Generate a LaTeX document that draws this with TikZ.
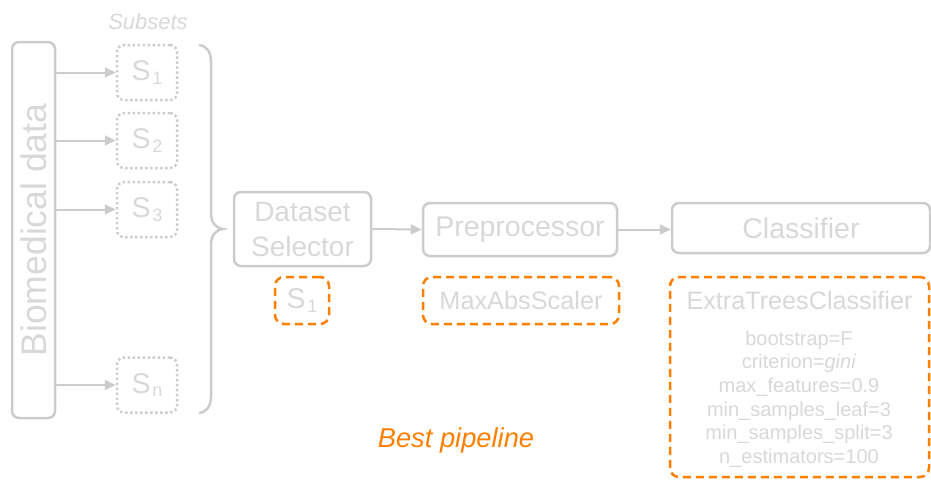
\documentclass[tikz,border=0pt]{standalone}
\usepackage{fontspec}
\setmainfont{Liberation Sans}
\usetikzlibrary{arrows.meta}
\definecolor{boxgray}{RGB}{204,204,204}
\definecolor{txtgray}{RGB}{216,216,216}
\definecolor{bestorange}{RGB}{255,128,0}
\newcommand\subsetlabel[1]{S\kern1.5pt\raisebox{-3.5pt}{\fontsize{18}{20}\selectfont #1}}
\begin{document}
\begin{tikzpicture}[x=1pt,y=-1pt,
  graybox/.style={draw=boxgray, line width=2.5pt, rounded corners=7pt, text=txtgray, inner sep=0pt},
  subsetbox/.style={draw=boxgray, line width=2.5pt, dash pattern=on 2.4pt off 2.6pt, rounded corners=7pt,
      minimum width=60pt, minimum height=55pt, text=txtgray, inner sep=0pt, font=\fontsize{28.5}{32}\selectfont},
  bestbox/.style={draw=bestorange, line width=2.5pt, dash pattern=on 8pt off 5pt, rounded corners=9pt,
      text=txtgray, inner sep=0pt},
  conn/.style={draw=boxgray, line width=2pt, -{Triangle[length=11pt,width=10pt]}},
  bracestyle/.style={draw=boxgray, line width=2.5pt}
]
\useasboundingbox (0,0) rectangle (931,483);

% Biomedical data
\node[graybox, rotate=90, minimum width=376pt, minimum height=43pt,
      font=\fontsize{35.5}{40}\selectfont] (bio) at (33.5,230) {Biomedical data};

% Subsets
\node[text=txtgray, font=\fontsize{22}{26}\selectfont\itshape] (subsets) at (148,22) {Subsets};
\node[subsetbox] (s1) at (147,72.5) {\subsetlabel{1}};
\node[subsetbox] (s2) at (147,140.5) {\subsetlabel{2}};
\node[subsetbox] (s3) at (147,209.5) {\subsetlabel{3}};
\node[subsetbox] (sn) at (147,385) {\subsetlabel{n}};

\draw[conn] (bio.south |- s1.west) -- (s1.west);
\draw[conn] (bio.south |- s2.west) -- (s2.west);
\draw[conn] (bio.south |- s3.west) -- (s3.west);
\draw[conn] (bio.south |- sn.west) -- (sn.west);

% Brace
\draw[bracestyle] (199,45) .. controls (207,46) and (211,52) .. (211,62) -- (211,213)
   .. controls (211,222) and (215,228) .. (223,229)
   .. controls (215,230) and (211,236) .. (211,245) -- (211,396)
   .. controls (211,406) and (207,412) .. (199,413);

% Pipeline boxes
\node[graybox, minimum width=137pt, minimum height=74pt, align=center,
      font=\fontsize{28}{35}\selectfont] (dsel) at (302.5,229) {Dataset\\Selector};
\node[graybox, minimum width=194pt, minimum height=53pt,
      font=\fontsize{28.5}{34}\selectfont] (prep) at (520,229.5) {Preprocessor};
\node[graybox, minimum width=258pt, minimum height=50pt,
      font=\fontsize{28.5}{34}\selectfont] (clf) at (801,228) {Classifier};

\draw[conn] (dsel.east) -- (prep.west);
\draw[conn] (prep.east) -- (prep.east -| clf.west);

% Best pipeline
\node[bestbox, minimum width=54pt, minimum height=47pt,
      font=\fontsize{28.5}{32}\selectfont] (bs1) at (302,300.5) {\subsetlabel{1}};
\node[bestbox, minimum width=196pt, minimum height=47pt,
      font=\fontsize{25.3}{30}\selectfont] (bscaler) at (521,300.5) {MaxAbsScaler};
\node[bestbox, minimum width=259pt, minimum height=200pt] (bclf) at (799.5,377) {};
\node[text=txtgray, font=\fontsize{25.2}{30}\selectfont] (bclftitle) at (799.5,300) {ExtraTreesClassifier};
\node[text=txtgray, align=center, font=\fontsize{20}{23.6}\selectfont] (bclfparams) at (799,399)
  {bootstrap=F\\criterion=\textit{gini}\\max\_features=0.9\\min\_samples\_leaf=3\\min\_samples\_split=3\\n\_estimators=100};

\node[text=bestorange, font=\fontsize{27.3}{30}\selectfont\itshape] (bestlabel) at (456,440) {Best pipeline};
\end{tikzpicture}
\end{document}
